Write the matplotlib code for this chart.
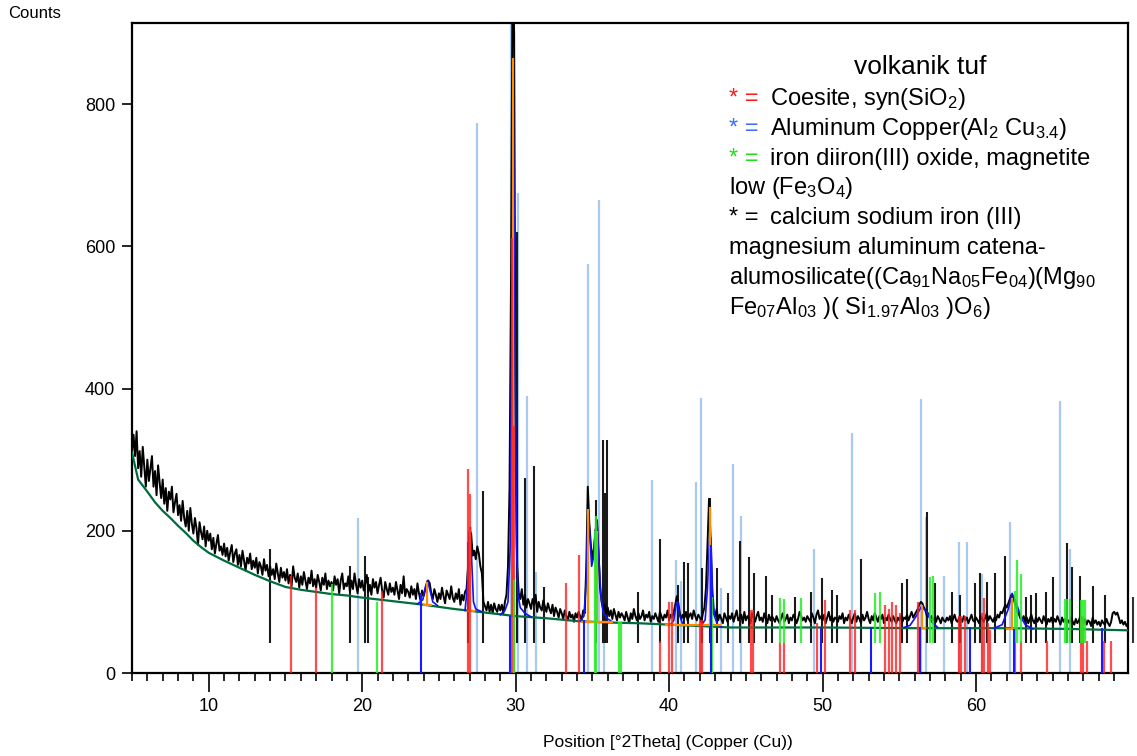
import numpy as np
import matplotlib
matplotlib.use("Agg")
import matplotlib.pyplot as plt
from matplotlib.ticker import MultipleLocator

plt.rcParams['font.family'] = ['Liberation Sans', 'DejaVu Sans']
plt.rcParams['mathtext.fontset'] = 'custom'
plt.rcParams['mathtext.rm'] = 'Liberation Sans'
plt.rcParams['mathtext.it'] = 'Liberation Sans'
plt.rcParams['mathtext.default'] = 'regular'

# observed scan, 0.1 deg steps, one row per degree (5..69)
obs_rows = [
    [310, 335, 305, 340, 288, 312, 276, 318, 290, 262],
    [300, 270, 288, 305, 262, 284, 250, 292, 268, 246],
    [272, 238, 260, 228, 255, 244, 262, 226, 240, 252],
    [222, 236, 214, 242, 218, 206, 228, 200, 232, 210],
    [196, 218, 204, 180, 212, 198, 188, 206, 178, 200],
    [186, 196, 174, 190, 168, 182, 194, 172, 178, 166],
    [182, 164, 176, 158, 170, 180, 156, 168, 174, 152],
    [166, 150, 172, 158, 144, 162, 154, 168, 146, 158],
    [148, 162, 140, 156, 150, 138, 160, 144, 152, 136],
    [150, 138, 146, 132, 154, 140, 128, 148, 134, 142],
    [130, 146, 126, 138, 122, 150, 134, 128, 140, 120],
    [136, 124, 142, 130, 118, 134, 126, 144, 122, 132],
    [120, 138, 128, 116, 134, 124, 140, 118, 130, 122],
    [128, 116, 136, 124, 132, 112, 130, 140, 118, 126],
    [122, 136, 114, 130, 118, 140, 124, 112, 132, 120],
    [130, 116, 126, 138, 114, 124, 110, 132, 120, 128],
    [112, 124, 134, 116, 106, 128, 118, 110, 126, 114],
    [120, 110, 128, 116, 104, 124, 112, 136, 108, 118],
    [114, 106, 122, 110, 118, 104, 126, 112, 102, 116],
    [108, 116, 124, 130, 126, 112, 104, 118, 110, 100],
    [112, 104, 120, 108, 98, 116, 110, 104, 122, 106],
    [100, 112, 104, 118, 96, 110, 102, 114, 118, 150],
    [200, 196, 165, 172, 160, 178, 168, 150, 140, 100],
    [94, 88, 100, 86, 96, 84, 98, 90, 86, 96],
    [88, 96, 84, 100, 110, 150, 260, 560, 1000, 900],
    [300, 150, 112, 104, 118, 96, 110, 92, 104, 98],
    [90, 104, 96, 110, 86, 100, 92, 88, 102, 94],
    [86, 98, 90, 84, 96, 80, 92, 86, 78, 90],
    [84, 76, 88, 80, 74, 86, 78, 82, 72, 84],
    [78, 86, 80, 74, 88, 84, 150, 262, 210, 180],
    [160, 175, 200, 215, 170, 120, 100, 90, 96, 84],
    [92, 80, 88, 76, 90, 82, 74, 86, 78, 84],
    [80, 74, 86, 78, 70, 84, 76, 90, 80, 74],
    [84, 76, 80, 88, 74, 82, 78, 86, 72, 80],
    [76, 84, 78, 72, 86, 80, 74, 82, 78, 88],
    [74, 82, 78, 86, 96, 108, 98, 84, 76, 82],
    [78, 86, 74, 80, 84, 76, 88, 80, 74, 82],
    [78, 72, 84, 92, 120, 180, 245, 190, 110, 84],
    [80, 90, 74, 82, 76, 70, 84, 78, 72, 80],
    [76, 84, 72, 80, 88, 74, 78, 82, 70, 86],
    [74, 80, 76, 70, 84, 78, 72, 80, 86, 74],
    [78, 72, 84, 76, 70, 82, 74, 80, 76, 72],
    [80, 74, 70, 78, 84, 72, 76, 82, 70, 78],
    [74, 82, 78, 70, 76, 86, 80, 74, 78, 72],
    [80, 76, 72, 84, 78, 70, 82, 88, 76, 80],
    [74, 82, 70, 78, 86, 74, 80, 72, 78, 76],
    [72, 80, 76, 84, 70, 78, 74, 82, 76, 70],
    [78, 84, 72, 80, 76, 70, 82, 74, 78, 86],
    [76, 70, 80, 74, 84, 78, 72, 80, 76, 82],
    [70, 78, 74, 82, 76, 72, 80, 74, 70, 78],
    [74, 80, 72, 78, 76, 82, 74, 80, 86, 78],
    [82, 86, 90, 96, 100, 98, 92, 88, 80, 84],
    [76, 80, 74, 78, 72, 80, 76, 70, 78, 74],
    [72, 78, 74, 80, 70, 76, 82, 74, 72, 78],
    [76, 72, 80, 74, 78, 70, 76, 82, 74, 72],
    [78, 74, 70, 80, 76, 72, 78, 84, 74, 80],
    [76, 72, 78, 74, 82, 78, 86, 84, 90, 96],
    [92, 98, 104, 110, 108, 100, 94, 86, 82, 76],
    [74, 80, 72, 78, 70, 76, 82, 74, 70, 78],
    [72, 78, 74, 70, 80, 74, 68, 76, 72, 78],
    [70, 76, 72, 80, 74, 68, 78, 72, 76, 70],
    [74, 70, 78, 72, 68, 76, 70, 74, 80, 72],
    [70, 76, 68, 74, 72, 66, 78, 70, 74, 68],
    [72, 66, 74, 70, 68, 76, 70, 66, 72, 84],
    [86, 82, 85, 78, 70, 74, 68, 72, 66, 70],
]
obs_y = np.concatenate(obs_rows)
obs_x = np.round(np.arange(5.0, 70.0, 0.1), 1)[:len(obs_y)]

# background
bg_x = [5.0, 5.4, 6.0, 6.5, 7.0, 7.5, 8.0, 8.5, 9.0, 9.5, 10, 11, 12, 13, 14, 15, 16, 17, 18, 19,
        20, 22, 24, 26, 28, 30, 32, 34, 36, 38, 40, 42, 44, 50, 56, 62, 66, 69.9]
bg_y = [310, 272, 255, 240, 228, 218, 207, 197, 186, 177, 169, 158, 148, 138, 129, 121, 117, 114, 111, 109,
        106, 101, 96, 90, 85, 80, 77, 73, 71, 70, 68, 66, 64, 64, 63, 63, 62, 60]

# calculated profile around fitted peaks
calc_segments = [
    ([23.6, 23.95, 24.1, 24.25, 24.4, 24.6, 24.9], [97, 103, 120, 130, 118, 100, 95]),
    ([26.7, 26.85, 26.95, 27.05, 27.15, 27.25, 27.4, 27.8], [88, 120, 190, 205, 150, 100, 90, 86]),
    ([29.0, 29.3, 29.5, 29.65, 29.75, 29.85, 29.95, 30.05, 30.15, 30.3, 30.6, 31.0],
     [82, 88, 100, 180, 500, 800, 500, 180, 110, 92, 84, 79]),
    ([34.2, 34.45, 34.6, 34.72, 34.82, 34.95, 35.05, 35.2, 35.3, 35.4, 35.55, 35.7, 36.0, 36.3],
     [73, 80, 130, 230, 200, 150, 160, 200, 210, 170, 110, 85, 76, 72]),
    ([40.1, 40.3, 40.45, 40.55, 40.7, 40.9], [68, 74, 95, 100, 80, 68]),
    ([42.1, 42.35, 42.5, 42.62, 42.72, 42.82, 42.95, 43.15, 43.4], [67, 75, 120, 185, 190, 120, 80, 68, 65]),
    ([55.3, 55.7, 56.1, 56.45, 56.8, 57.1, 57.5], [64, 67, 80, 94, 85, 72, 64]),
    ([61.2, 61.7, 62.1, 62.35, 62.6, 62.9, 63.2, 63.7], [63, 68, 90, 112, 100, 80, 68, 62]),
]

# peak markers
peak_pos = [24.25, 27.05, 29.85, 34.72, 35.3, 42.65, 56.5, 62.35]
peak_top = [128, 203, 865, 230, 200, 233, 95, 105]
peak_base = [96, 87, 80, 72, 72, 66, 63, 63]
peak_span = [(24.0, 24.5, 96), (26.9, 27.3, 87), (34.3, 36.3, 72), (39.8, 43.3, 67), (56.2, 56.7, 63), (62.0, 62.5, 62)]

# reference patterns
ltblue_pos = [19.73, 27.45, 29.67, 30.13, 30.73, 31.3, 34.71, 35.43, 35.75, 38.88, 40.47, 40.79, 41.73, 42.1,
              43.4, 44.16, 44.66, 49.42, 51.91, 56.43, 56.71, 57.89, 58.89, 59.43, 60.4, 62.19, 65.44, 66.14]
ltblue_top = [218, 773, 1000, 675, 390, 142, 575, 665, 168, 271, 159, 130, 269, 387,
              119, 294, 221, 174, 337, 385, 220, 137, 184, 184, 139, 212, 383, 174]

blk_pos = [14.02, 19.18, 20.16, 20.38, 26.9, 27.88, 30.1, 30.6, 31.17, 31.82, 35.21, 35.69, 35.8, 35.95,
           37.97, 39.38, 40.57, 41.0, 41.2, 42.16, 42.68, 43.12, 43.83, 44.6, 45.2, 45.53, 46.29, 46.7,
           48.18, 49.26, 49.96, 50.63, 50.96, 52.48, 55.17, 55.5, 56.82, 57.3, 58.43, 58.97, 59.9, 60.23,
           60.71, 61.21, 61.9, 63.23, 63.6, 63.92, 64.57, 65.01, 65.92, 66.27, 66.75, 67.61, 68.42]
blk_top = [174, 151, 165, 135, 184, 256, 620, 274, 291, 121, 243, 328, 253, 327,
           114, 188, 124, 156, 154, 147, 246, 147, 112, 185, 163, 140, 136, 110,
           107, 114, 133, 117, 110, 161, 126, 132, 226, 127, 114, 110, 126, 140,
           128, 140, 165, 107, 110, 112, 114, 135, 183, 149, 137, 123, 110]
blk_base = 42

red_pos = [15.34, 16.97, 21.27, 26.87, 27.0, 29.76, 29.9, 33.26, 34.1, 39.38, 39.97, 40.18, 41.99, 42.14,
           45.31, 45.46, 47.2, 47.5, 49.66, 50.17, 51.76, 52.13, 54.04, 54.3, 54.54, 54.8, 55.02, 56.21,
           58.86, 59.04, 59.25, 60.4, 60.51, 60.77, 60.93, 62.51, 62.9, 64.64, 66.86, 67.0, 67.25, 68.33, 68.77]
red_top = [136, 119, 116, 287, 251, 611, 347, 127, 166, 45, 100, 100, 75, 75,
           88, 88, 42, 42, 70, 102, 89, 89, 95, 90, 100, 95, 85, 100,
           80, 80, 80, 85, 105, 70, 60, 45, 45, 45, 80, 80, 45, 45, 45]

green_pos = [18.05, 20.99, 29.9, 35.15, 35.25, 36.73, 36.88, 42.81, 47.24, 47.46, 48.61, 53.43,
             53.72, 57.02, 57.19, 62.55, 62.69, 62.9, 65.77, 65.9, 66.1, 66.86, 66.95, 67.07]
green_top = [125, 100, 131, 200, 221, 72, 72, 107, 106, 104, 105, 112,
             114, 135, 137, 115, 159, 139, 104, 104, 104, 102, 102, 102]
green_base = [0, 0, 0, 0, 0, 0, 0, 0, 42, 42, 42, 42,
              42, 42, 42, 42, 42, 42, 42, 42, 42, 42, 42, 42]

dkblue_pos = [23.85, 29.65, 34.45, 42.75, 49.87, 53.17, 56.37, 59.62, 62.47, 68.2]
dkblue_top = [113, 80, 75, 180, 65, 64, 64, 64, 62, 63]

legend_lines = [
    ('* =', '#ff1a1a', 'Coesite, syn(SiO$_2$)'),
    ('* =', '#3d6dff', 'Aluminum Copper(Al$_2$ Cu$_{3.4}$)'),
    ('* =', '#1ee01e', 'iron diiron(III) oxide, magnetite'),
    (None, None, 'low (Fe$_3$O$_4$)'),
    ('* =', 'black', 'calcium sodium iron (III)'),
    (None, None, 'magnesium aluminum catena-'),
    (None, None, 'alumosilicate((Ca$_{91}$Na$_{05}$Fe$_{04}$)(Mg$_{90}$'),
    (None, None, 'Fe$_{07}$Al$_{03}$ )( Si$_{1.97}$Al$_{03}$ )O$_6$)'),
]

W, H = 1137, 756
fig = plt.figure(figsize=(W / 100, H / 100), dpi=100)
ax = fig.add_axes([132 / W, 1 - 673 / H, (1128 - 132) / W, (673 - 23) / H])

ax.vlines(ltblue_pos, 0, ltblue_top, color='#a9caf0', lw=1.6, zorder=1)
ax.vlines(blk_pos, blk_base, blk_top, color='#1a1a1a', lw=1.5, zorder=1.5)
ax.vlines([70.2], blk_base, [107], color='#333333', lw=1.5, clip_on=False)

ax.plot(obs_x, obs_y, color='black', lw=1.4, zorder=2)
ax.plot(bg_x, bg_y, color='#006b3c', lw=1.6, zorder=3)
for cx, cy in calc_segments:
    ax.plot(cx, cy, color='#1010ff', lw=1.2, zorder=3.5)
ax.vlines(peak_pos, peak_base, peak_top, color='#ff8c00', lw=1.6, zorder=3.6)
for x0, x1, yy in peak_span:
    ax.plot([x0, x1], [yy, yy], color='#ff8c00', lw=1.6, zorder=3.6)

ax.vlines(red_pos, 0, red_top, color='#ff2020', lw=1.6, alpha=0.8, zorder=4)
ax.vlines(green_pos, green_base, green_top, color='#22ee22', lw=1.6, alpha=0.85, zorder=4)
ax.vlines(dkblue_pos, 0, dkblue_top, color='#1a1aff', lw=1.5, zorder=4)

ax.set_xlim(5.0, 69.9)
ax.set_ylim(0, 914)
ax.set_xticks([10, 20, 30, 40, 50, 60])
ax.xaxis.set_minor_locator(MultipleLocator(1))
ax.set_yticks([0, 200, 400, 600, 800])
ax.tick_params(axis='x', which='major', length=14, width=1.2, pad=4, labelsize=13)
ax.tick_params(axis='x', which='minor', length=6, width=1.2)
ax.tick_params(axis='y', which='major', length=7, width=1.2, pad=5, labelsize=13)
for sp in ax.spines.values():
    sp.set_linewidth(1.6)

fig.text(8 / W, 1 - 14 / H, 'Counts', fontsize=12, ha='left', va='center')
fig.text(668 / W, 1 - 743 / H, 'Position [°2Theta] (Copper (Cu))', fontsize=12.5, ha='center', va='center')

fig.text(920 / W, 1 - 74 / H, 'volkanik tuf', fontsize=19, ha='center', va='baseline')
for i, (pre, col, txt) in enumerate(legend_lines):
    yb = 1 - (105 + 29.8 * i) / H
    if pre is None:
        fig.text(729 / W, yb, txt, fontsize=17, ha='left', va='baseline')
    else:
        fig.text(729 / W, yb, pre, fontsize=17, ha='left', va='baseline', color=col)
        fig.text(770 / W, yb, txt, fontsize=17, ha='left', va='baseline')

fig.savefig('out.png', dpi=100)
